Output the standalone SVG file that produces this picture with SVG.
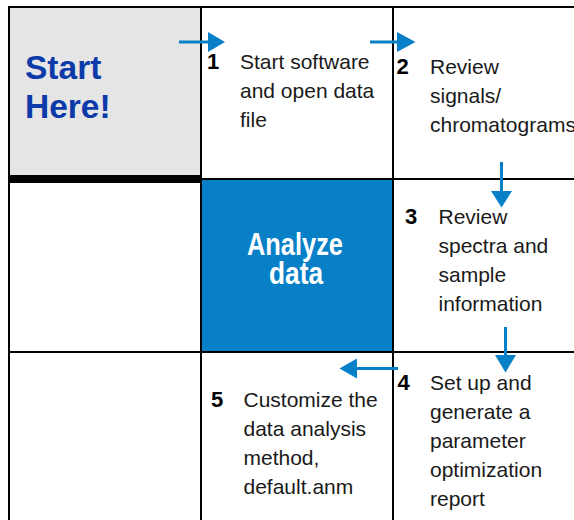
<svg xmlns="http://www.w3.org/2000/svg" width="574" height="520" viewBox="0 0 574 520">
<style>
.grid{stroke:#000;stroke-width:2;fill:none}
.body{font-family:"Liberation Sans",Arial,sans-serif;font-size:21px;fill:#1a1a1a}
.num{font-family:"Liberation Sans",Arial,sans-serif;font-size:22px;font-weight:bold;fill:#000}
.conn line{stroke:#0880c8;stroke-width:3}
.conn polygon{fill:#0880c8}
</style>
<rect width="574" height="520" fill="#fff"/>
<g id="start-here">
<rect x="9" y="7" width="192" height="169" fill="#e5e5e5"/>
<text font-family="'Liberation Sans',Arial,sans-serif" font-weight="bold" font-size="33.5" fill="#0c3aa8"><tspan x="25" y="79">Start</tspan><tspan x="25" y="118">Here!</tspan></text>
</g>
<g id="analyze-data">
<rect x="201" y="179" width="192" height="173" fill="#0880c8"/>
<text font-family="'Liberation Sans',Arial,sans-serif" font-weight="bold" font-size="30.5" fill="#fff" text-anchor="middle"><tspan x="295" y="254.5" textLength="96" lengthAdjust="spacingAndGlyphs">Analyze</tspan><tspan x="296" y="284" textLength="54" lengthAdjust="spacingAndGlyphs">data</tspan></text>
</g>
<g id="grid">
<line class="grid" x1="8" y1="7" x2="574" y2="7"/>
<line class="grid" x1="9" y1="6" x2="9" y2="520"/>
<line class="grid" x1="201" y1="6" x2="201" y2="520"/>
<line class="grid" x1="393" y1="6" x2="393" y2="520"/>
<line class="grid" x1="201" y1="179" x2="574" y2="179"/>
<line class="grid" x1="8" y1="352" x2="574" y2="352"/>
<rect x="8" y="175" width="194" height="8" fill="#000"/>
</g>
<g id="step1">
<text class="num" x="207" y="68.5">1</text>
<text class="body"><tspan x="240" y="68.5">Start software</tspan><tspan x="240" y="97.5">and open data</tspan><tspan x="240" y="126.5">file</tspan></text>
</g>
<g id="step2">
<text class="num" x="396.5" y="74">2</text>
<text class="body"><tspan x="430" y="74">Review</tspan><tspan x="430" y="103">signals/</tspan><tspan x="430" y="132">chromatograms</tspan></text>
</g>
<g id="step3">
<text class="num" x="405" y="223.5">3</text>
<text class="body"><tspan x="438.5" y="223.5">Review</tspan><tspan x="438.5" y="252.5">spectra and</tspan><tspan x="438.5" y="281.5">sample</tspan><tspan x="438.5" y="310.5">information</tspan></text>
</g>
<g id="step4">
<text class="num" x="397.5" y="390">4</text>
<text class="body"><tspan x="430" y="390">Set up and</tspan><tspan x="430" y="419">generate a</tspan><tspan x="430" y="448">parameter</tspan><tspan x="430" y="477">optimization</tspan><tspan x="430" y="506">report</tspan></text>
</g>
<g id="step5">
<text class="num" x="211" y="406.5">5</text>
<text class="body"><tspan x="243.5" y="406.5">Customize the</tspan><tspan x="243.5" y="436">data analysis</tspan><tspan x="243.5" y="465">method,</tspan><tspan x="243.5" y="494">default.anm</tspan></text>
</g>
<g id="connectors" class="conn">
<line x1="179" y1="42" x2="209" y2="42"/>
<polygon points="208,32 225,42 208,52"/>
<line x1="370" y1="42" x2="398" y2="42"/>
<polygon points="397,32 415.5,42 397,52"/>
<line x1="501.5" y1="162" x2="501.5" y2="192"/>
<polygon points="491,191 512,191 501.5,207.5"/>
<line x1="505.5" y1="327" x2="505.5" y2="356"/>
<polygon points="495,355 516,355 505.5,372.5"/>
<line x1="398" y1="368.5" x2="356" y2="368.5"/>
<polygon points="357,358.5 357,378.5 339.5,368.5"/>
</g>
</svg>
